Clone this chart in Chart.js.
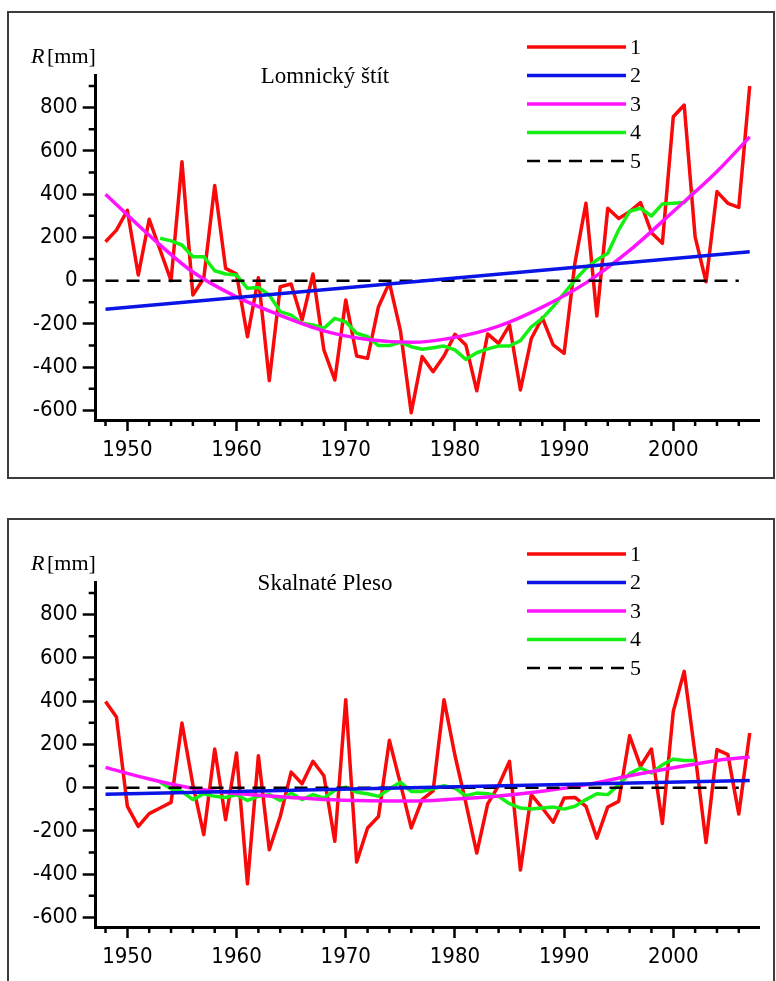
<!DOCTYPE html>
<html>
<head>
<meta charset="utf-8">
<script src="https://cdn.jsdelivr.net/npm/chart.js@4.4.1/dist/chart.umd.min.js"></script>
<style>
  html, body { margin: 0; padding: 0; background: #fff; }
  body { width: 776px; height: 981px; position: relative; overflow: hidden; }
  .box { position: absolute; left: 7px; width: 768px; border: 2px solid #3c3c3c; box-sizing: border-box; }
  #box1 { top: 11px; height: 468px; }
  #box2 { top: 518px; height: 480px; }
  canvas { position: absolute; left: 0; }
  #lomnicky { top: 0; }
  #skalnate { top: 507px; }
</style>
</head>
<body>
<div class="box" id="box1"></div>
<div class="box" id="box2"></div>
<canvas id="lomnicky" width="776" height="500"></canvas>
<canvas id="skalnate" width="776" height="474"></canvas>
<script>
// years of the annual series
const years = [1948, 1949, 1950, 1951, 1952, 1953, 1954, 1955, 1956, 1957,
  1958, 1959, 1960, 1961, 1962, 1963, 1964, 1965, 1966, 1967,
  1968, 1969, 1970, 1971, 1972, 1973, 1974, 1975, 1976, 1977,
  1978, 1979, 1980, 1981, 1982, 1983, 1984, 1985, 1986, 1987,
  1988, 1989, 1990, 1991, 1992, 1993, 1994, 1995, 1996, 1997,
  1998, 1999, 2000, 2001, 2002, 2003, 2004, 2005, 2006, 2007];
const avgYears = years.slice(5, 55);          // 1953 .. 2002
const trendYears = [1948, 2007];
const zeroYears = [1948, 2006];
const quadYears = [1948, 1952, 1956, 1960, 1964, 1968, 1972, 1976, 1980, 1984, 1988, 1992, 1996, 2000, 2004, 2007];

// Lomnický štít
const lomRaw = [180, 234, 325, 26, 284, 142, 0, 550, -66, 11,
  440, 57, 31, -259, 14, -462, -28, -15, -182, 31,
  -320, -459, -89, -348, -359, -120, -9, -228, -610, -351,
  -421, -348, -248, -297, -509, -246, -290, -205, -505, -267,
  -171, -297, -336, 85, 358, -163, 335, 288, 319, 361,
  222, 173, 758, 812, 203, -5, 412, 358, 339, 900];
const lomLinear = [-132, 134];
const lomQuad = [400, 210, 40, -75, -160, -232, -272, -285, -262, -210, -122, -10, 140, 320, 505, 665];
const lomAvg = [196, 184, 165, 111, 111, 46, 31, 26, -35, -31,
  -66, -143, -159, -197, -205, -220, -174, -190, -243, -259,
  -300, -300, -285, -305, -317, -310, -302, -320, -364, -333,
  -315, -302, -302, -277, -213, -174, -120, -58, 3, 57,
  96, 127, 235, 321, 335, 299, 355, 358, 361, 416];

// Skalnaté Pleso
const skaRaw = [399, 327, -86, -179, -120, -94, -68, 299, 14, -217,
  179, -148, 160, -444, 148, -287, -133, 72, 18, 122,
  55, -248, 407, -344, -186, -133, 219, 20, -186, -55,
  -15, 407, 150, -70, -302, -75, 10, 122, -381, -32,
  -94, -160, -48, -45, -86, -233, -89, -63, 240, 99,
  179, -166, 353, 538, 153, -253, 176, 153, -122, 253];
const skaLinear = [-30, 33];
const skaQuad = [94, 40, -3, -27, -42, -54, -60, -62, -52, -38, -16, 13, 55, 92, 126, 142];
const skaAvg = [25, -5, -17, -55, -28, -40, -45, -32, -59, -40,
  -32, -59, -25, -55, -32, -48, -12, 3, -21, -28,
  -40, -6, 25, -17, -17, -5, 9, -2, -37, -25,
  -28, -40, -74, -94, -99, -94, -89, -99, -86, -55,
  -28, -32, 14, 65, 91, 68, 106, 132, 126, 126];
const zeroLine = [0, 0];

// axis ticks
const xMajor = [1950, 1960, 1970, 1980, 1990, 2000];
const xMinor = [1948, 1952, 1954, 1956, 1958, 1962, 1964, 1966, 1968, 1972, 1974, 1976, 1978,
  1982, 1984, 1986, 1988, 1992, 1994, 1996, 1998, 2002, 2004, 2006];
const yMajor = [-600, -400, -200, 0, 200, 400, 600, 800];
const yMinor = [-500, -300, -100, 100, 300, 500, 700, 900];
const legendLabels = ['1', '2', '3', '4', '5'];

const serif = '"Liberation Serif", "Times New Roman", serif';
Chart.defaults.font.family = '"Liberation Sans Narrow", "DejaVu Sans Condensed", "Liberation Sans", sans-serif';
Chart.defaults.color = '#000';

function pts(xs, ys) {
  return xs.map((x, i) => ({ x: x, y: ys[i] }));
}

const minorTicks = {
  id: 'minorTicks',
  afterDraw(chart) {
    const { ctx, chartArea } = chart;
    const x = chart.scales.x, y = chart.scales.y;
    ctx.save();
    ctx.strokeStyle = '#000';
    ctx.lineWidth = 2.5;
    ctx.beginPath();
    xMinor.forEach(v => {
      const px = x.getPixelForValue(v);
      ctx.moveTo(px, chartArea.bottom);
      ctx.lineTo(px, chartArea.bottom + 6);
    });
    yMinor.forEach(v => {
      const py = y.getPixelForValue(v);
      ctx.moveTo(chartArea.left, py);
      ctx.lineTo(chartArea.left - 7, py);
    });
    ctx.stroke();
    ctx.restore();
  }
};

const panelText = {
  id: 'panelText',
  afterDraw(chart, args, opts) {
    const ctx = chart.ctx;
    ctx.save();
    ctx.fillStyle = '#000';
    ctx.textBaseline = 'alphabetic';
    // axis name
    ctx.font = 'italic 22px ' + serif;
    ctx.textAlign = 'left';
    ctx.fillText('R', 31, 63);
    ctx.font = '22px ' + serif;
    ctx.fillText('[mm]', 47, 63);
    // station name
    ctx.textAlign = 'center';
    ctx.font = '23px ' + serif;
    ctx.fillText(opts.title, 325, 83);
    // legend
    chart.data.datasets.slice().sort((a, b) => a.label - b.label).forEach((ds, i) => {
      const ly = 47 + i * 28.5;
      ctx.beginPath();
      ctx.strokeStyle = ds.borderColor;
      ctx.lineWidth = ds.borderWidth;
      ctx.setLineDash(ds.borderDash || []);
      ctx.moveTo(527, ly);
      ctx.lineTo(626, ly);
      ctx.stroke();
      ctx.setLineDash([]);
      ctx.textAlign = 'left';
      ctx.textBaseline = 'middle';
      ctx.font = '22px ' + serif;
      ctx.fillText(ds.label, 630, ly + 1);
    });
    ctx.restore();
  }
};

function buildChart(id, title, raw, linear, quad, avg, height) {
  const ctx = document.getElementById(id).getContext('2d');
  return new Chart(ctx, {
    type: 'line',
    data: {
      datasets: [
        { label: legendLabels[0], data: pts(years, raw), borderColor: '#f80a0a', borderWidth: 3.5, order: 5 },
        { label: legendLabels[1], data: pts(trendYears, linear), borderColor: '#0a14e6', borderWidth: 3.5, order: 1 },
        { label: legendLabels[2], data: pts(quadYears, quad), borderColor: '#ff14ff', borderWidth: 3.5, order: 3,
          cubicInterpolationMode: 'monotone' },
        { label: legendLabels[3], data: pts(avgYears, avg), borderColor: '#14f014', borderWidth: 3.5, order: 4 },
        { label: legendLabels[4], data: pts(zeroYears, zeroLine), borderColor: '#000', borderWidth: 2.5,
          borderDash: [13, 8], order: 2 }
      ]
    },
    options: {
      responsive: false,
      animation: false,
      layout: { padding: { top: 75, right: 17, left: 0, bottom: 0 } },
      elements: { point: { radius: 0 }, line: { borderJoinStyle: 'round', borderCapStyle: 'butt' } },
      scales: {
        x: {
          type: 'linear',
          min: 1947.1,
          max: 2007.85,
          afterBuildTicks: s => { s.ticks = xMajor.map(v => ({ value: v })); },
          afterFit: s => { s.height = height - 420; },
          border: { display: true, color: '#000', width: 3 },
          grid: { drawOnChartArea: false, drawTicks: true, tickLength: 11, tickColor: '#000', tickWidth: 2.5 },
          ticks: { font: { size: 22 }, padding: 6, maxRotation: 0, callback: v => String(v) }
        },
        y: {
          type: 'linear',
          min: -644,
          max: 951,
          afterBuildTicks: s => { s.ticks = yMajor.map(v => ({ value: v })); },
          afterFit: s => { s.width = 95.7; },
          border: { display: true, color: '#000', width: 3 },
          grid: { drawOnChartArea: false, drawTicks: true, tickLength: 13, tickColor: '#000', tickWidth: 2.5 },
          ticks: { font: { size: 22 }, padding: 5, callback: v => String(v) }
        }
      },
      plugins: {
        legend: { display: false },
        tooltip: { enabled: false },
        panelText: { title: title }
      }
    },
    plugins: [minorTicks, panelText]
  });
}

buildChart('lomnicky', 'Lomnický štít', lomRaw, lomLinear, lomQuad, lomAvg, 500);
buildChart('skalnate', 'Skalnaté Pleso', skaRaw, skaLinear, skaQuad, skaAvg, 474);
</script>
</body>
</html>
